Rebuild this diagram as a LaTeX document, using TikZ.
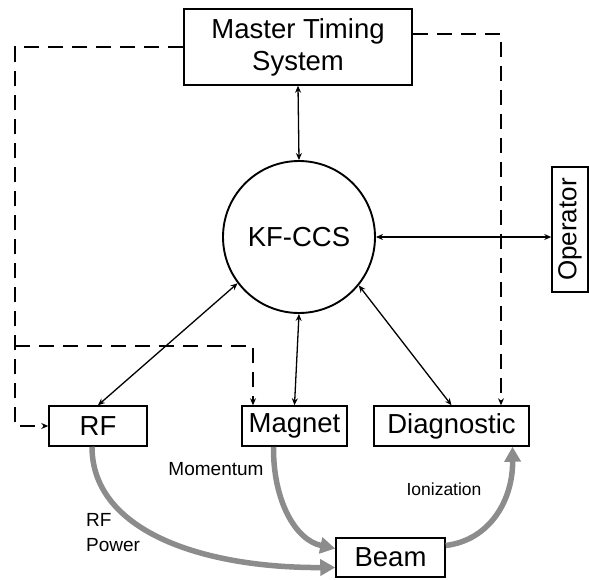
\documentclass[tikz,border=0pt]{standalone}
\usepackage{fontspec}
\setmainfont{Liberation Sans}
\usepackage{graphicx}
\usetikzlibrary{arrows.meta}

\begin{document}
\begin{tikzpicture}[x=1pt,y=-1pt,unit/.style={shape=rectangle,draw=black,line width=1.5pt,inner sep=0pt,font=\fontsize{27.5}{30}\selectfont},ccs/.style={shape=circle,draw=black,line width=1.9pt,minimum size=152pt,inner sep=0pt,font=\fontsize{27.5}{30}\selectfont},link/.style={line width=1.3pt,{Stealth[length=7pt,width=6pt]}-{Stealth[length=7pt,width=6pt]}},timing/.style={line width=1.1pt,dash pattern=on 15pt off 9pt,-{Stealth[length=7pt,width=6pt]}},flow/.style={line width=5.5pt,draw=black!45,-{Triangle[length=15pt,width=16pt]}},tag/.style={font=\fontsize{19}{25}\selectfont}]
\def\by{426};
\def\bh{40};

\useasboundingbox (0,0) rectangle (589,579);

\node[unit,minimum width=228pt,minimum height=76pt,align=center] (MTS) at (298,47) {Master Timing\\[2pt]System};
\node[ccs] (CCS) at (299,237) {KF-CCS};
\node[unit,minimum width=36pt,minimum height=125pt] (Op) at (570,229.5) {\rotatebox{90}{\fontsize{26}{28}\selectfont Operator}};

\node[unit,minimum width=98pt,minimum height=\bh pt] (RF) at (98,\by) {RF};
\node[unit,minimum width=105pt,minimum height=\bh pt] (Mag) at (294.5,\by) {Magnet};
\node[unit,minimum width=155pt,minimum height=\bh pt] (Diag) at (451.5,\by) {Diagnostic};
\node[unit,minimum width=109pt,minimum height=39pt] (Beam) at (390.5,557.5) {Beam};

% control links
\draw[link] (MTS.south) -- (CCS.north);
\draw[link] (CCS.east) -- (CCS.east -| Op.west);
\draw[link] (CCS.217) -- (RF.north);
\draw[link] (CCS.south) -- (Mag.north);
\draw[link] (CCS.321) -- (Diag.north);

% timing
\coordinate (tl) at (15,47);
\coordinate (ml) at (15,346);
\coordinate (mg) at (253,346);
\coordinate (tr) at (501,34);
\draw[timing] (MTS.west) -- (tl) |- (RF.west);
\draw[timing] (ml) -- (mg) -- (mg |- Mag.north);
\draw[timing] (MTS.east |- tr) -- (tr) -- (tr |- Diag.north);

% beam
\draw[flow] ([xshift=-6pt]RF.south) .. controls (92,530) and (200,568) .. ([yshift=-10pt]Beam.west);
\draw[flow] ([xshift=-21pt]Mag.south) .. controls (273,500) and (295,540) .. ([yshift=9pt]Beam.west);
\draw[flow] ([yshift=12pt]Beam.east) .. controls (490,540) and (513,500) .. ([xshift=61pt]Diag.south);

\node[tag] (Mom) at (216,469) {Momentum};
\node[tag,font=\fontsize{17.5}{20}\selectfont] (Ion) at (444,489) {Ionization};
\node[tag,align=left,anchor=west,inner sep=0pt] (RFP) at (86,533) {RF\\Power};
\end{tikzpicture}
\end{document}
